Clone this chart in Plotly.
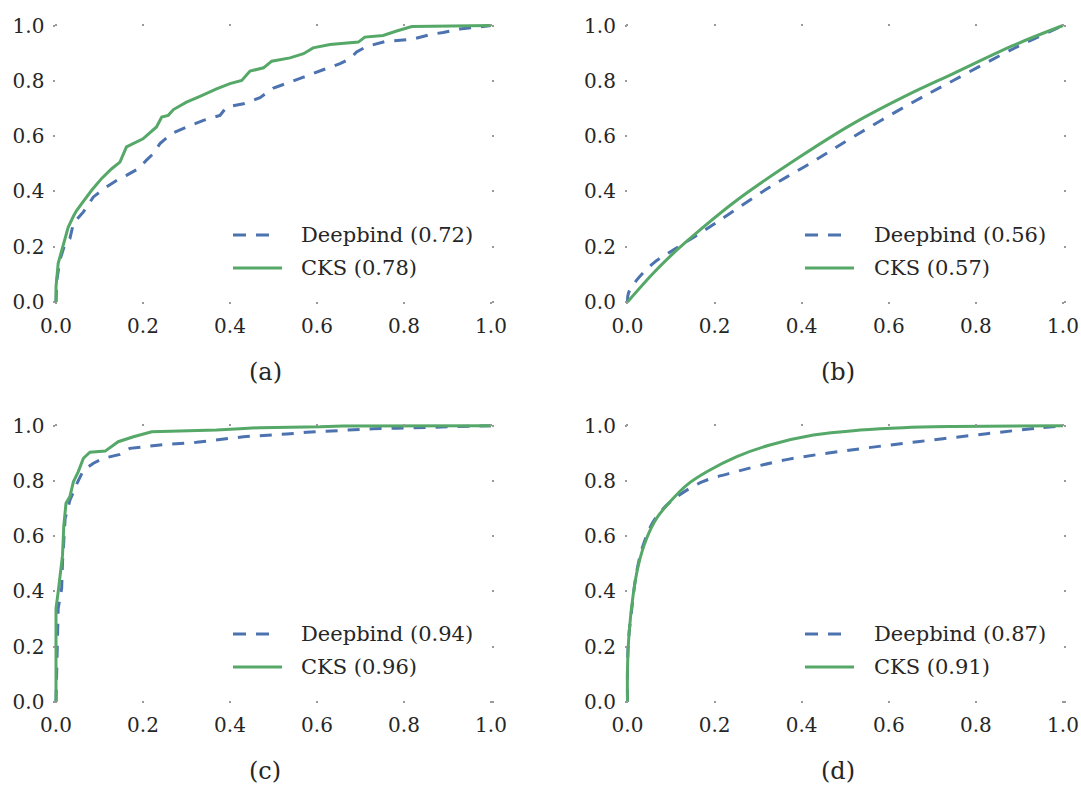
import plotly.graph_objects as go

# ---------------- data ----------------
PANELS = ["a", "b", "c", "d"]
AUC_DEEPBIND = [0.72, 0.56, 0.94, 0.87]
AUC_CKS = [0.78, 0.57, 0.96, 0.91]
TICKS = [0.0, 0.2, 0.4, 0.6, 0.8, 1.0]
TICK_TEXT = ["0.0", "0.2", "0.4", "0.6", "0.8", "1.0"]

# panel (a)
A_DB_FPR = [0.0, 0.002, 0.009, 0.021, 0.032, 0.04, 0.063, 0.086, 0.116, 0.147, 0.162, 0.189, 0.208,
            0.224, 0.239, 0.266, 0.3, 0.339, 0.377, 0.392, 0.431, 0.469, 0.5, 0.538, 0.569, 0.614,
            0.653, 0.676, 0.691, 0.714, 0.756, 0.821, 0.86, 0.89, 0.928, 1.0]
A_DB_TPR = [0.0, 0.08, 0.152, 0.212, 0.23, 0.284, 0.326, 0.38, 0.416, 0.447, 0.458, 0.482, 0.513,
            0.537, 0.573, 0.609, 0.633, 0.657, 0.675, 0.705, 0.717, 0.739, 0.774, 0.795, 0.813, 0.84,
            0.862, 0.88, 0.904, 0.924, 0.942, 0.951, 0.967, 0.975, 0.987, 1.0]
A_CKS_FPR = [0.0, 0.0, 0.005, 0.017, 0.028, 0.04, 0.047, 0.059, 0.082, 0.105, 0.128, 0.147, 0.162,
             0.2, 0.231, 0.243, 0.258, 0.27, 0.3, 0.331, 0.369, 0.4, 0.427, 0.446, 0.477, 0.496,
             0.515, 0.538, 0.569, 0.591, 0.63, 0.695, 0.71, 0.752, 0.783, 0.818, 1.0]
A_CKS_TPR = [0.0, 0.055, 0.14, 0.21, 0.27, 0.31, 0.33, 0.356, 0.404, 0.447, 0.482, 0.506, 0.561,
             0.59, 0.633, 0.669, 0.675, 0.696, 0.723, 0.744, 0.771, 0.79, 0.801, 0.835, 0.847, 0.871,
             0.876, 0.883, 0.898, 0.919, 0.931, 0.94, 0.958, 0.964, 0.98, 0.996, 1.0]

# panel (b)
B_DB_FPR = [0.0, 0.002, 0.021, 0.059, 0.105, 0.166, 0.235, 0.327, 0.419, 0.518, 0.649, 0.748, 0.886, 1.0]
B_DB_TPR = [0.0, 0.031, 0.079, 0.14, 0.188, 0.248, 0.32, 0.416, 0.501, 0.597, 0.717, 0.801, 0.916, 1.0]
B_CKS_FPR = [0.0, 0.059, 0.105, 0.166, 0.251, 0.396, 0.518, 0.641, 0.748, 0.886, 1.0]
B_CKS_TPR = [0.0, 0.104, 0.176, 0.26, 0.368, 0.525, 0.645, 0.747, 0.826, 0.928, 1.0]

# panel (c)
C_DB_FPR = [0.0, 0.002, 0.003, 0.005, 0.013, 0.015, 0.021, 0.032, 0.048, 0.063, 0.086, 0.109, 0.147,
            0.17, 0.239, 0.323, 0.431, 0.484, 0.53, 0.576, 0.63, 0.676, 0.729, 0.783, 0.837, 0.89,
            0.944, 1.0]
C_DB_TPR = [0.0, 0.193, 0.29, 0.338, 0.41, 0.507, 0.664, 0.73, 0.79, 0.839, 0.864, 0.882, 0.896,
            0.918, 0.93, 0.94, 0.96, 0.964, 0.97, 0.976, 0.981, 0.985, 0.989, 0.991, 0.993, 0.996,
            0.998, 1.0]
C_CKS_FPR = [0.0, 0.0, 0.005, 0.009, 0.015, 0.018, 0.023, 0.032, 0.04, 0.051, 0.063, 0.078, 0.113,
             0.143, 0.178, 0.22, 0.369, 0.423, 0.469, 0.607, 0.66, 1.0]
C_CKS_TPR = [0.0, 0.338, 0.398, 0.459, 0.531, 0.64, 0.719, 0.743, 0.797, 0.833, 0.882, 0.904, 0.908,
             0.942, 0.96, 0.978, 0.984, 0.989, 0.993, 0.996, 0.999, 1.0]

# panel (d)
D_DB_FPR = [0.0, 0.0, 0.002, 0.01, 0.021, 0.036, 0.059, 0.09, 0.12, 0.174, 0.251, 0.365, 0.518,
            0.671, 0.825, 0.94, 1.0]
D_DB_TPR = [0.0, 0.12, 0.218, 0.339, 0.471, 0.567, 0.652, 0.712, 0.75, 0.798, 0.834, 0.877, 0.913,
            0.943, 0.971, 0.991, 1.0]
D_CKS_FPR = [0.0, 0.0, 0.004, 0.013, 0.025, 0.044, 0.067, 0.098, 0.136, 0.182, 0.251, 0.327, 0.427,
             0.534, 0.633, 0.748, 1.0]
D_CKS_TPR = [0.0, 0.121, 0.255, 0.387, 0.495, 0.592, 0.665, 0.725, 0.785, 0.833, 0.888, 0.93, 0.966,
             0.984, 0.993, 0.997, 1.0]

DB_CURVES = [(A_DB_FPR, A_DB_TPR), (B_DB_FPR, B_DB_TPR), (C_DB_FPR, C_DB_TPR), (D_DB_FPR, D_DB_TPR)]
CKS_CURVES = [(A_CKS_FPR, A_CKS_TPR), (B_CKS_FPR, B_CKS_TPR), (C_CKS_FPR, C_CKS_TPR), (D_CKS_FPR, D_CKS_TPR)]
SMOOTH = [False, True, False, True]

# ---------------- style / layout ----------------
W, H = 1081, 786
BLUE = "#4C72B0"
GREEN = "#55A868"
TEXT = "#262626"
FONT = "DejaVu Serif"
LW = 3
DASH = "12px,10px"
PAD = 0.006

# pixel boxes of the plot areas: (left, right, bottom, top)
BOXES = [(56, 491, 302, 25.5), (627.5, 1063, 302, 25.5),
         (56, 491, 701.7, 425.7), (627.5, 1063, 701.7, 425.7)]
LEG_LINE_X = [233, 805, 233, 805]
LEG_TEXT_X = [299, 872, 299, 872]
LEG_ROW_Y = [235, 235, 634, 634]
LEG_ROW_GAP = 33
CAP_X = [265, 838, 265, 838]
CAP_Y = [372, 372, 771, 771]

fig = go.Figure()
shapes = []
annotations = []

for i, p in enumerate(PANELS):
    sfx = "" if i == 0 else str(i + 1)
    xa, ya = "x" + sfx, "y" + sfx
    shape = "spline" if SMOOTH[i] else "linear"
    fx, fy = DB_CURVES[i]
    fig.add_trace(go.Scatter(x=fx, y=fy, mode="lines", xaxis=xa, yaxis=ya, showlegend=False,
                             name="Deepbind (%.2f)" % AUC_DEEPBIND[i],
                             line=dict(color=BLUE, width=LW, dash=DASH, shape=shape)))
    fx, fy = CKS_CURVES[i]
    fig.add_trace(go.Scatter(x=fx, y=fy, mode="lines", xaxis=xa, yaxis=ya, showlegend=False,
                             name="CKS (%.2f)" % AUC_CKS[i],
                             line=dict(color=GREEN, width=LW, shape=shape)))

    l, r, b, t = BOXES[i]
    pw, ph = r - l, b - t
    xdom = [(l - PAD * pw) / W, (r + PAD * pw) / W]
    ydom = [1 - (b + PAD * ph) / H, 1 - (t - PAD * ph) / H]
    common = dict(range=[-PAD, 1 + PAD], tickvals=TICKS, ticktext=TICK_TEXT, showgrid=False,
                  zeroline=False, showline=False, ticks="inside", ticklen=2, tickwidth=2,
                  tickcolor="#9a9a9a", mirror="ticks", ticklabelstandoff=8, automargin=False,
                  tickfont=dict(family=FONT, size=20, color=TEXT), fixedrange=True)
    fig.update_layout(**{
        "xaxis" + sfx: dict(domain=xdom, anchor=ya, **common),
        "yaxis" + sfx: dict(domain=ydom, anchor=xa, **common),
    })

    # legend (drawn manually to match the reference's long line samples)
    y1 = LEG_ROW_Y[i]
    y2 = y1 + LEG_ROW_GAP
    shapes.append(dict(type="line", xref="paper", yref="paper",
                       x0=LEG_LINE_X[i] / W, x1=(LEG_LINE_X[i] + 37) / W,
                       y0=1 - y1 / H, y1=1 - y1 / H,
                       line=dict(color=BLUE, width=LW, dash="13px,10px")))
    shapes.append(dict(type="line", xref="paper", yref="paper",
                       x0=LEG_LINE_X[i] / W, x1=(LEG_LINE_X[i] + 49) / W,
                       y0=1 - y2 / H, y1=1 - y2 / H,
                       line=dict(color=GREEN, width=LW)))
    annotations.append(dict(text="Deepbind (%.2f)" % AUC_DEEPBIND[i], xref="paper", yref="paper",
                            x=LEG_TEXT_X[i] / W, y=1 - y1 / H, xanchor="left", yanchor="middle",
                            showarrow=False, font=dict(family=FONT, size=21, color=TEXT)))
    annotations.append(dict(text="CKS (%.2f)" % AUC_CKS[i], xref="paper", yref="paper",
                            x=LEG_TEXT_X[i] / W, y=1 - y2 / H, xanchor="left", yanchor="middle",
                            showarrow=False, font=dict(family=FONT, size=21, color=TEXT)))
    annotations.append(dict(text="(%s)" % p, xref="paper", yref="paper",
                            x=CAP_X[i] / W, y=1 - CAP_Y[i] / H, xanchor="center", yanchor="middle",
                            showarrow=False, font=dict(family=FONT, size=24, color=TEXT)))

fig.update_layout(width=W, height=H, margin=dict(l=0, r=0, t=0, b=0),
                  paper_bgcolor="white", plot_bgcolor="white",
                  shapes=shapes, annotations=annotations, showlegend=False)

fig.write_html("out.html")
